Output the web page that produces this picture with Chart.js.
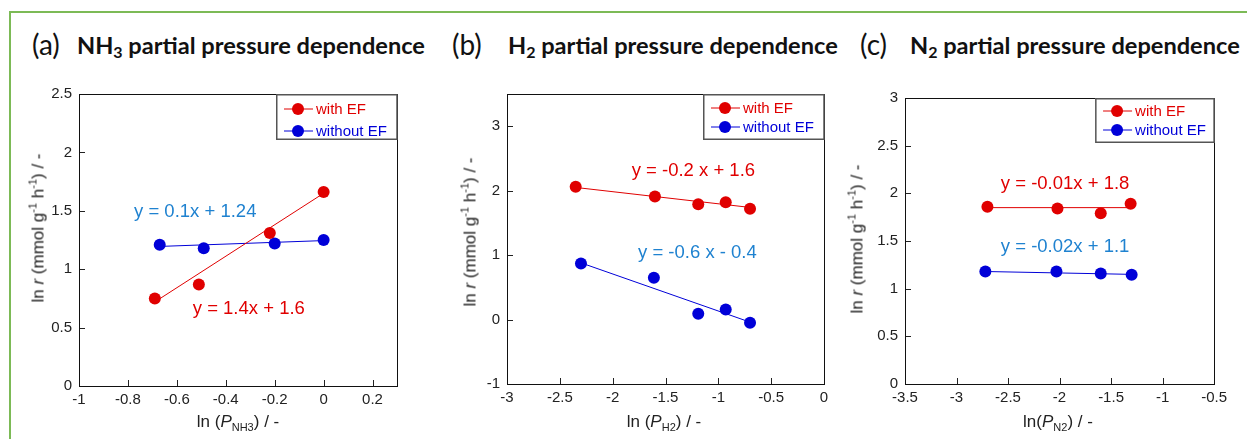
<!DOCTYPE html>
<html>
<head>
<meta charset="utf-8">
<script src="https://cdn.jsdelivr.net/npm/chart.js@4.4.0/dist/chart.umd.min.js"></script>
<style>
body{margin:0;background:#fff;width:1247px;height:439px;overflow:hidden;position:relative;font-family:'Liberation Sans',Arial,sans-serif}
#frame{position:absolute;left:9px;top:11px;width:1260px;height:450px;border-left:2px solid #7cba56;border-top:2px solid #7cba56}
canvas{position:absolute}
.tl{position:absolute;font-family:Lato,sans-serif;font-size:28px;color:#111;line-height:1;white-space:nowrap}
.tt{position:absolute;font-family:Lato,sans-serif;font-weight:bold;font-size:23.6px;color:#111;line-height:1;white-space:nowrap}
.tt sub{font-size:16px;vertical-align:-4px;line-height:0}
.xt,.yt{position:absolute;font-size:17px;color:#222;white-space:nowrap;line-height:1;transform:translate(-50%,-50%)}
.yt{transform:translate(-50%,-50%) rotate(-90deg)}
.xt sub,.yt sup{font-size:11px;line-height:0}
.xt sub{vertical-align:-4px}
.yt sup{vertical-align:7px}
</style>
</head>
<body>
<div id="frame"></div>

<div class="tl" style="left:32px;top:30px">(a)</div>
<div class="tt" style="left:77px;top:34px">NH<sub>3</sub> partial pressure dependence</div>
<div class="tl" style="left:452px;top:30px">(b)</div>
<div class="tt" style="left:508px;top:34px">H<sub>2</sub> partial pressure dependence</div>
<div class="tl" style="left:860px;top:30px">(c)</div>
<div class="tt" style="left:910px;top:34px">N<sub>2</sub> partial pressure dependence</div>

<canvas id="ca" width="373" height="336" style="left:39px;top:78px"></canvas>
<canvas id="cb" width="372" height="334" style="left:467px;top:78px"></canvas>
<canvas id="cc" width="367" height="330" style="left:865px;top:82px"></canvas>

<div class="yt" style="left:38px;top:228px">ln <i>r</i> (mmol g<sup>-1</sup> h<sup>-1</sup>) / -</div>
<div class="xt" style="left:238px;top:421px">ln (<i>P</i><sub>NH3</sub>) / -</div>
<div class="yt" style="left:470px;top:232px">ln <i>r</i> (mmol g<sup>-1</sup> h<sup>-1</sup>) / -</div>
<div class="xt" style="left:664px;top:421px">ln (<i>P</i><sub>H2</sub>) / -</div>
<div class="yt" style="left:857px;top:239px">ln <i>r</i> (mmol g<sup>-1</sup> h<sup>-1</sup>) / -</div>
<div class="xt" style="left:1058px;top:421px">ln(<i>P</i><sub>N2</sub>) / -</div>

<script>
// (a) NH3
var aWithX = [-0.69, -0.51, -0.22, 0];
var aWithY = [0.75, 0.87, 1.31, 1.66];
var aWithoutX = [-0.67, -0.49, -0.20, 0];
var aWithoutY = [1.21, 1.18, 1.22, 1.25];
var aWithFitX = [-0.69, 0];
var aWithFitY = [0.72, 1.65];
var aWithoutFitX = [-0.67, 0];
var aWithoutFitY = [1.195, 1.245];
var aXTicks = [-1, -0.8, -0.6, -0.4, -0.2, 0, 0.2];
var aYTicks = [0, 0.5, 1, 1.5, 2, 2.5];

// (b) H2
var bWithX = [-2.35, -1.60, -1.19, -0.93, -0.70];
var bWithY = [2.06, 1.91, 1.79, 1.82, 1.72];
var bWithoutX = [-2.30, -1.61, -1.19, -0.93, -0.70];
var bWithoutY = [0.87, 0.65, 0.09, 0.155, -0.05];
var bWithFitX = [-2.35, -0.70];
var bWithFitY = [2.05, 1.74];
var bWithoutFitX = [-2.30, -0.70];
var bWithoutFitY = [0.88, -0.04];
var bXTicks = [-3, -2.5, -2, -1.5, -1, -0.5, 0];
var bYTicks = [-1, 0, 1, 2, 3];

// (c) N2
var cWithX = [-2.70, -2.02, -1.60, -1.31];
var cWithY = [1.86, 1.84, 1.79, 1.89];
var cWithoutX = [-2.72, -2.03, -1.60, -1.30];
var cWithoutY = [1.18, 1.18, 1.16, 1.145];
var cWithFitX = [-2.70, -1.31];
var cWithFitY = [1.85, 1.85];
var cWithoutFitX = [-2.72, -1.30];
var cWithoutFitY = [1.18, 1.15];
var cXTicks = [-3.5, -3, -2.5, -2, -1.5, -1, -0.5];
var cYTicks = [0, 0.5, 1, 1.5, 2, 2.5, 3];

var seriesNames = ['with EF', 'without EF'];
var aEquations = ['y = 1.4x + 1.6', 'y = 0.1x + 1.24'];
var bEquations = ['y = -0.2 x + 1.6', 'y = -0.6 x - 0.4'];
var cEquations = ['y = -0.01x + 1.8', 'y = -0.02x + 1.1'];

var red = '#e00000';
var blue = '#0000d8';
var eqBlue = '#1f82d0';
var tickFont = {family: "'Liberation Sans', Arial, sans-serif", size: 15};

function pts(xs, ys){
    var out = [];
    for(var i=0; i<xs.length; i++){
        out.push({x: xs[i], y: ys[i]});
    }
    return out;
}

function fmt(v){
    return String(Number(v.toFixed(2)));
}

function fixedTicks(list){
    return function(scale){
        scale.ticks = list.map(function(v){ return {value: v}; });
    };
}

function makePanel(id, p){

    var framePlugin = {
        id: 'frame' + id,
        afterDatasetsDraw: function(chart){
            var c = chart.ctx;
            var a = chart.chartArea;
            var xs = chart.scales.x, ys = chart.scales.y;
            c.save();

            // equations
            c.font = "18.5px 'Liberation Sans', Arial, sans-serif";
            c.textBaseline = 'middle';
            c.textAlign = 'left';
            c.fillStyle = red;
            c.fillText(p.eq[0], xs.getPixelForValue(p.eqPos[0][0]), ys.getPixelForValue(p.eqPos[0][1]));
            c.fillStyle = eqBlue;
            c.fillText(p.eq[1], xs.getPixelForValue(p.eqPos[1][0]), ys.getPixelForValue(p.eqPos[1][1]));

            // inner tick marks
            c.strokeStyle = '#222';
            c.lineWidth = 1;
            c.beginPath();
            xs.ticks.forEach(function(t){
                var px = Math.round(xs.getPixelForValue(t.value)) + 0.5;
                c.moveTo(px, a.bottom);
                c.lineTo(px, a.bottom - 6);
            });
            ys.ticks.forEach(function(t){
                var py = Math.round(ys.getPixelForValue(t.value)) + 0.5;
                c.moveTo(a.left, py);
                c.lineTo(a.left + 6, py);
            });
            c.stroke();

            // plot box
            c.strokeStyle = '#111';
            c.strokeRect(Math.round(a.left) + 0.5, Math.round(a.top) + 0.5, Math.round(a.right - a.left), Math.round(a.bottom - a.top));

            // legend
            var lx = a.right - p.legW, ly = a.top;
            c.fillStyle = '#fff';
            c.fillRect(lx, ly, p.legW, p.legH);
            c.strokeStyle = '#555';
            c.lineWidth = 1.5;
            c.strokeRect(lx + 0.75, ly + 0.75, p.legW - 0.75, p.legH - 1.5);
            var cols = [red, blue];
            c.font = "15px 'Liberation Sans', Arial, sans-serif";
            for(var i=0; i<2; i++){
                var ry = ly + p.legRows[i];
                c.strokeStyle = cols[i];
                c.lineWidth = 1;
                c.beginPath();
                c.moveTo(lx + 8, ry);
                c.lineTo(lx + 37, ry);
                c.stroke();
                c.fillStyle = cols[i];
                c.beginPath();
                c.arc(lx + 22, ry, 6, 0, Math.PI * 2);
                c.fill();
                c.fillText(seriesNames[i], lx + 40, ry + 1);
            }
            c.restore();
        }
    };

    return new Chart(document.getElementById(id), {
        type: 'scatter',
        data: {
            datasets: [
                {label: seriesNames[0], data: pts(p.wx, p.wy), backgroundColor: red, borderColor: red, pointRadius: 6, pointHoverRadius: 6, borderWidth: 0, order: 1},
                {label: seriesNames[1], data: pts(p.nx, p.ny), backgroundColor: blue, borderColor: blue, pointRadius: 6, pointHoverRadius: 6, borderWidth: 0, order: 1},
                {data: pts(p.wfx, p.wfy), showLine: true, borderColor: red, borderWidth: 1, pointRadius: 0, order: 2},
                {data: pts(p.nfx, p.nfy), showLine: true, borderColor: blue, borderWidth: 1, pointRadius: 0, order: 2}
            ]
        },
        options: {
            responsive: false,
            animation: false,
            devicePixelRatio: 1,
            layout: {padding: {left: 0, right: 15, top: 15, bottom: 0}},
            plugins: {legend: {display: false}, tooltip: {enabled: false}},
            scales: {
                x: {
                    type: 'linear', min: p.xMin, max: p.xMax,
                    ticks: {padding: 5, font: tickFont, color: '#222', maxRotation: 0, minRotation: 0, autoSkip: false, callback: fmt},
                    grid: {display: false, drawTicks: false},
                    border: {display: false},
                    afterBuildTicks: fixedTicks(p.xTicks),
                    afterFit: function(s){ s.height = 28; }
                },
                y: {
                    type: 'linear', min: p.yMin, max: p.yMax,
                    ticks: {padding: 7, font: tickFont, color: '#222', autoSkip: false, callback: fmt},
                    grid: {display: false, drawTicks: false},
                    border: {display: false},
                    afterBuildTicks: fixedTicks(p.yTicks),
                    afterFit: function(s){ s.width = 40; }
                }
            }
        },
        plugins: [framePlugin]
    });
}

makePanel('ca', {
    wx: aWithX, wy: aWithY, nx: aWithoutX, ny: aWithoutY,
    wfx: aWithFitX, wfy: aWithFitY, nfx: aWithoutFitX, nfy: aWithoutFitY,
    xMin: -1, xMax: 0.3, yMin: 0, yMax: 2.5, xTicks: aXTicks, yTicks: aYTicks,
    eq: aEquations, eqPos: [[-0.535, 0.66], [-0.775, 1.49]],
    legW: 121, legH: 46, legRows: [15, 37]
});

makePanel('cb', {
    wx: bWithX, wy: bWithY, nx: bWithoutX, ny: bWithoutY,
    wfx: bWithFitX, wfy: bWithFitY, nfx: bWithoutFitX, nfy: bWithoutFitY,
    xMin: -3, xMax: 0, yMin: -1, yMax: 3.5, xTicks: bXTicks, yTicks: bYTicks,
    eq: bEquations, eqPos: [[-1.82, 2.31], [-1.76, 1.04]],
    legW: 121, legH: 46, legRows: [14, 33]
});

makePanel('cc', {
    wx: cWithX, wy: cWithY, nx: cWithoutX, ny: cWithoutY,
    wfx: cWithFitX, wfy: cWithFitY, nfx: cWithoutFitX, nfy: cWithoutFitY,
    xMin: -3.5, xMax: -0.5, yMin: 0, yMax: 3, xTicks: cXTicks, yTicks: cYTicks,
    eq: cEquations, eqPos: [[-2.57, 2.10], [-2.57, 1.44]],
    legW: 119, legH: 45, legRows: [13, 32]
});
</script>
</body>
</html>
